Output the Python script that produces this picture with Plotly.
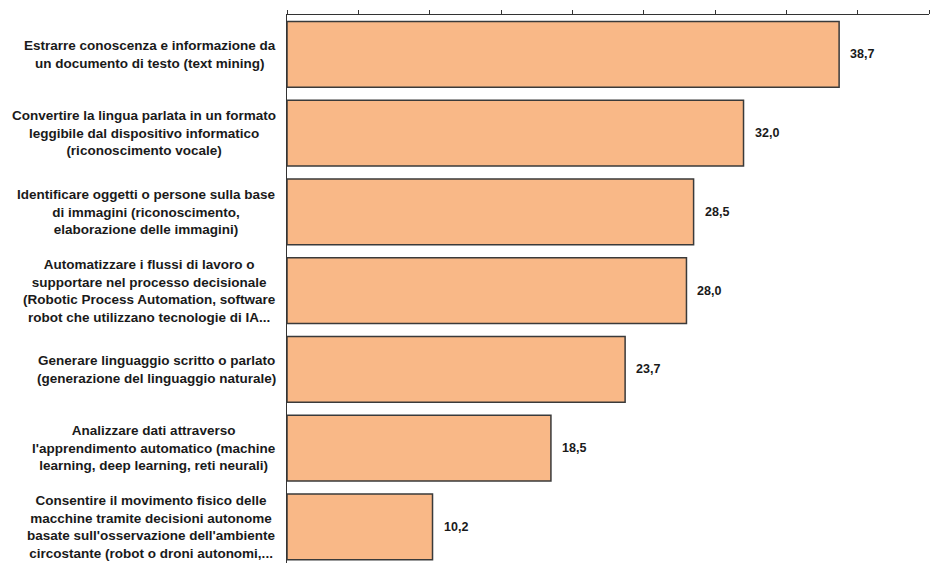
import plotly.graph_objects as go

categories = [
    "Estrarre conoscenza e informazione da<br>un documento di testo (text mining)",
    "Convertire la lingua parlata in un formato<br>leggibile dal dispositivo informatico<br>(riconoscimento vocale)",
    "Identificare oggetti o persone sulla base<br>di immagini (riconoscimento,<br>elaborazione delle immagini)",
    "Automatizzare i flussi di lavoro o<br>supportare nel processo decisionale<br>(Robotic Process Automation, software<br>robot che utilizzano tecnologie di IA...",
    "Generare linguaggio scritto o parlato<br>(generazione del linguaggio naturale)",
    "Analizzare dati attraverso<br>l'apprendimento automatico (machine<br>learning, deep learning, reti neurali)",
    "Consentire il movimento fisico delle<br>macchine tramite decisioni autonome<br>basate sull'osservazione dell'ambiente<br>circostante (robot o droni autonomi,...",
]
values = [38.7, 32.0, 28.5, 28.0, 23.7, 18.5, 10.2]
tick_vals = [0, 5, 10, 15, 20, 25, 30, 35, 40, 45]

idx = list(range(len(categories)))
FONT = "Liberation Sans, Arial, sans-serif"

fig = go.Figure()
fig.add_trace(go.Bar(
    y=idx, x=values, orientation="h",
    marker=dict(color="#F9B887", line=dict(color="#3a3a3a", width=1.5)),
    hoverinfo="skip",
))

annotations = []
for i, (c, v) in enumerate(zip(categories, values)):
    annotations.append(dict(
        x=-0.014, xref="paper", y=i, yref="y", text="<b>" + c.replace("<br>", "</b><br><b>") + "</b>",
        xanchor="right", yanchor="middle", align="center", showarrow=False,
        font=dict(family=FONT, size=13.5, color="#1a1a1a"),
    ))
    annotations.append(dict(
        x=v, xref="x", y=i, yref="y", text="<b>" + f"{v:.1f}".replace(".", ",") + "</b>",
        xanchor="left", yanchor="middle", xshift=9, showarrow=False,
        font=dict(family=FONT, size=12.5, color="#1a1a1a"),
    ))

fig.update_layout(
    width=936, height=563,
    margin=dict(l=287, r=7, t=15, b=0),
    paper_bgcolor="white", plot_bgcolor="white",
    bargap=0.165,
    showlegend=False,
    annotations=annotations,
    xaxis=dict(
        range=[0, 45], side="top", tickvals=tick_vals, showticklabels=False,
        ticks="outside", ticklen=4, tickcolor="#333", tickwidth=1,
        showline=True, linecolor="#333", linewidth=1, showgrid=False, zeroline=False,
        fixedrange=True,
    ),
    yaxis=dict(
        range=[6.46, -0.5], showticklabels=False, ticks="",
        showline=True, linecolor="#333", linewidth=1, showgrid=False, zeroline=False,
        fixedrange=True,
    ),
)

fig.write_html("out.html", config={"displayModeBar": False},
               post_script="document.body.style.margin='0';document.body.style.overflow='hidden';")
